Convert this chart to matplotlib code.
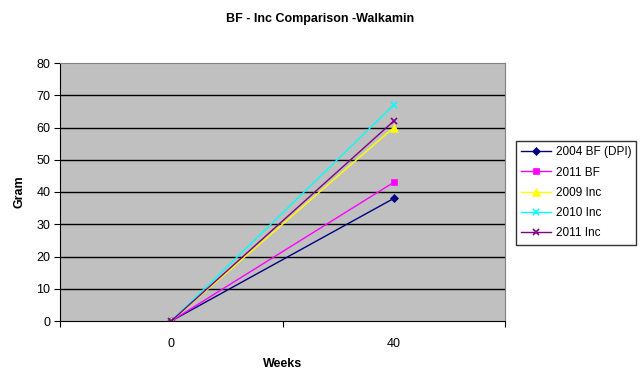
import matplotlib.pyplot as plt

weeks = ["0", "40"]
bf_2004 = [0, 38]
bf_2011 = [0, 43]
inc_2009 = [0, 60]
inc_2010 = [0, 67]
inc_2011 = [0, 62]

series = [
    ("2004 BF (DPI)", bf_2004, "#000080", "D", 4),
    ("2011 BF", bf_2011, "#FF00FF", "s", 5),
    ("2009 Inc", inc_2009, "#FFFF00", "^", 6),
    ("2010 Inc", inc_2010, "#00FFFF", "x", 5),
    ("2011 Inc", inc_2011, "#800080", "x", 5),
]

plt.rcParams['font.family'] = ['Liberation Sans', 'DejaVu Sans']

fig = plt.figure(figsize=(6.4, 3.85), dpi=100, facecolor='white')
ax = fig.add_axes([60/640, 1 - 321/385, 445/640, 258/385])
ax.set_facecolor('#C0C0C0')

xs = list(range(len(weeks)))
for name, vals, col, mk, ms in series:
    ax.plot(xs, vals, color=col, lw=1, marker=mk, markersize=ms,
            markeredgewidth=1.2 if mk == 'x' else 0.5, markeredgecolor=col,
            label=name)

ax.set_xlim(-0.5, len(weeks) - 0.5)
ax.set_ylim(0, 80)
ax.set_yticks(range(0, 81, 10))
ax.set_xticks([x - 0.5 for x in range(len(weeks) + 1)])
ax.set_xticklabels([])
ax.set_xticks(xs, minor=True)
ax.set_xticklabels(weeks, minor=True)
ax.tick_params(axis='x', which='minor', length=0, pad=12, labelsize=9)
ax.tick_params(axis='x', which='major', length=4, direction='out', color='black')
ax.tick_params(axis='y', length=4, direction='out', labelsize=9, pad=3)

for y in range(10, 80, 10):
    ax.axhline(y, color='black', lw=1, zorder=1)

ax.spines['top'].set_color('#808080')
ax.spines['right'].set_color('#808080')
ax.spines['left'].set_color('black')
ax.spines['bottom'].set_color('black')

ax.set_xlabel("Weeks", fontsize=9, fontweight='bold', labelpad=6)
ax.set_ylabel("Gram", fontsize=9, fontweight='bold', labelpad=8)
fig.text(0.5, 1 - 19/385, "BF - Inc Comparison -Walkamin", ha='center', va='center',
         fontsize=9, fontweight='bold')

leg = fig.legend(loc='upper left', bbox_to_anchor=(516/640, 1 - 141/385),
                 fontsize=8.5, frameon=True, fancybox=False, edgecolor='black',
                 handlelength=2.5, handletextpad=0.4, labelspacing=0.7,
                 borderpad=0.45, borderaxespad=0)
leg.get_frame().set_linewidth(1)

fig.savefig("out.png", dpi=100)
